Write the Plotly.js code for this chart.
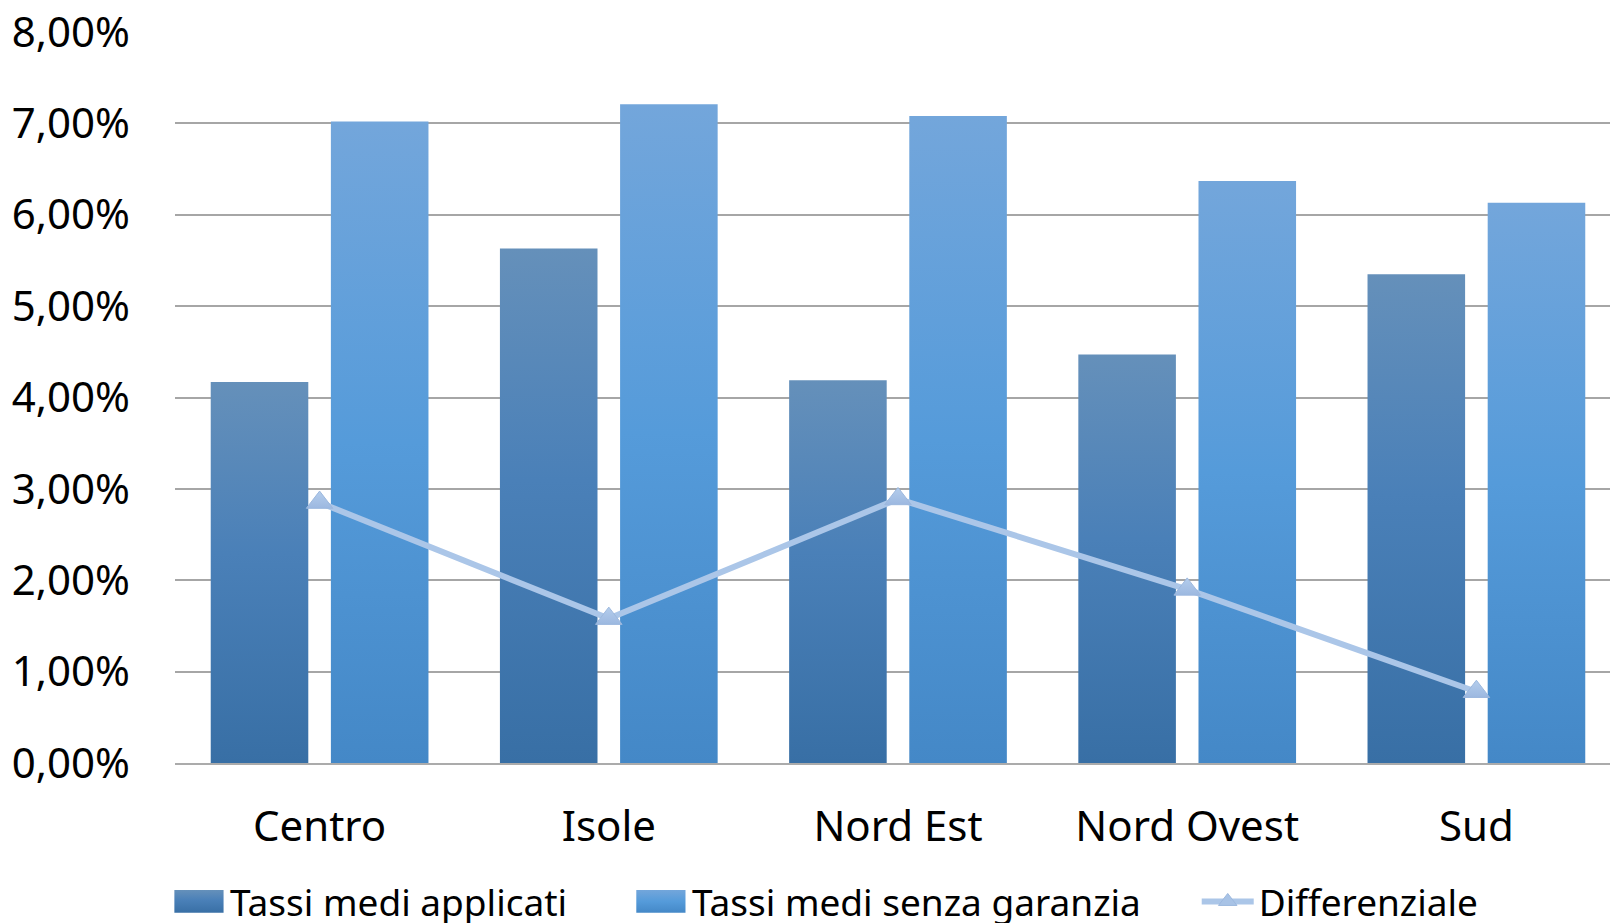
<!DOCTYPE html>
<html>
<head>
<meta charset="utf-8">
<script src="https://cdn.plot.ly/plotly-3.0.1.min.js"></script>
<style>
  html, body { margin: 0; padding: 0; background: #fff; overflow: hidden; }
  #chart { width: 1610px; height: 923px; }
</style>
</head>
<body>
<div id="chart"></div>
<script>
// ---- data ----
const categories = ["Centro", "Isole", "Nord Est", "Nord Ovest", "Sud"];
const tassiApplicati = [0.0417, 0.0563, 0.0419, 0.0447, 0.0535];
const tassiSenzaGaranzia = [0.0702, 0.0721, 0.0708, 0.0637, 0.0613];
const differenziale = [0.0285, 0.0158, 0.0289, 0.0190, 0.0078];
const seriesNames = ["Tassi medi applicati", "Tassi medi senza garanzia", "Differenziale"];
const yTicks = [0, 0.01, 0.02, 0.03, 0.04, 0.05, 0.06, 0.07, 0.08];

const FONT = "'Noto Sans', 'Open Sans', sans-serif";

const traces = [
  {
    type: "bar", name: seriesNames[0], x: categories, y: tassiApplicati,
    marker: { color: "#4A7DB0" }, hoverinfo: "none", legend: "legend"
  },
  {
    type: "bar", name: seriesNames[1], x: categories, y: tassiSenzaGaranzia,
    marker: { color: "#5597D6" }, hoverinfo: "none", legend: "legend2"
  },
  {
    type: "scatter", mode: "lines+markers", name: seriesNames[2], x: categories, y: differenziale,
    line: { color: "#ABC6E8", width: 6 },
    marker: { symbol: "triangle-up", size: 23, color: "#A8C3E6", line: { color: "#9CB8DE", width: 1 } },
    hoverinfo: "none", legend: "legend3"
  }
];

function legendAt(x) {
  return {
    orientation: "h",
    x: x, xanchor: "left",
    y: -0.19, yanchor: "middle",
    itemwidth: 52,
    font: { family: FONT, size: 37, color: "#000000" },
    itemclick: false, itemdoubleclick: false,
    bgcolor: "rgba(0,0,0,0)"
  };
}

const layout = {
  width: 1610, height: 923,
  margin: { l: 175, r: 0, t: 32, b: 160, autoexpand: false },
  paper_bgcolor: "#ffffff", plot_bgcolor: "#ffffff",
  separators: ",.",
  barmode: "group",
  bargap: 0.169,
  bargroupgap: 0.188,
  showlegend: true,
  font: { family: FONT, color: "#000000" },
  xaxis: {
    type: "category",
    range: [-0.5, 4.462],
    showgrid: false,
    showline: true, linecolor: "#ABABAB", linewidth: 2,
    ticks: "",
    tickfont: { family: FONT, size: 42, color: "#000000" },
    ticklabelstandoff: 26,
    fixedrange: true
  },
  yaxis: {
    range: [0, 0.08],
    tickvals: yTicks,
    tickformat: ".2%",
    showgrid: true, gridcolor: "#A6A6A6", gridwidth: 2,
    zeroline: false, showline: false,
    ticks: "",
    tickfont: { family: FONT, size: 42, color: "#000000" },
    ticklabelstandoff: 44,
    fixedrange: true
  },
  legend: legendAt(-0.0049),
  legend2: legendAt(0.317),
  legend3: legendAt(0.712)
};

function addGradients(gd) {
  const svg = gd.querySelector("svg.main-svg");
  if (!svg) return;
  const ns = "http://www.w3.org/2000/svg";
  let defs = svg.querySelector("defs");
  if (!defs) { defs = document.createElementNS(ns, "defs"); svg.insertBefore(defs, svg.firstChild); }
  function grad(id, stops) {
    const g = document.createElementNS(ns, "linearGradient");
    g.setAttribute("id", id);
    g.setAttribute("x1", "0"); g.setAttribute("y1", "0");
    g.setAttribute("x2", "0"); g.setAttribute("y2", "1");
    stops.forEach(([o, c]) => {
      const s = document.createElementNS(ns, "stop");
      s.setAttribute("offset", o); s.setAttribute("stop-color", c);
      g.appendChild(s);
    });
    defs.appendChild(g);
  }
  grad("gradDark", [["0", "#6590BA"], ["0.45", "#4A80B8"], ["1", "#386FA5"]]);
  grad("gradLight", [["0", "#73A6DB"], ["0.5", "#559BDA"], ["1", "#4488C7"]]);
  grad("gradTri", [["0", "#B4CDEC"], ["1", "#9CB8E0"]]);
  const ids = ["gradDark", "gradLight"];
  gd.querySelectorAll(".barlayer .trace").forEach((tr, i) => {
    tr.querySelectorAll("path").forEach(p => { p.style.fill = "url(#" + ids[i] + ")"; });
  });
  gd.querySelectorAll(".scatterlayer .points path").forEach(p => { p.style.fill = "url(#gradTri)"; });
  // legend swatches: widen to rectangles and apply gradient
  const legendClasses = ["legend", "legend2"];
  legendClasses.forEach((cls, i) => {
    gd.querySelectorAll("g." + cls + " .legendpoints path").forEach(p => {
      p.style.fill = "url(#" + ids[i] + ")";
      const t = p.getAttribute("transform") || "";
      p.setAttribute("transform", t + " scale(4.1,1.9)");
    });
  });
}

Plotly.newPlot("chart", traces, layout, { displayModeBar: false, staticPlot: true }).then(addGradients);
</script>
</body>
</html>
